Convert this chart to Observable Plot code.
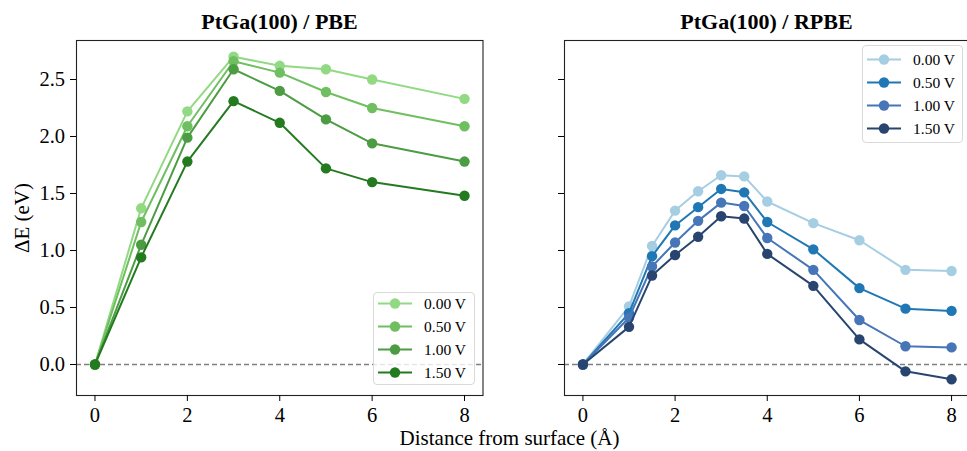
<!DOCTYPE html>
<html>
<head>
<meta charset="utf-8">
<script src="https://cdn.jsdelivr.net/npm/d3@7"></script>
<script src="https://cdn.jsdelivr.net/npm/@observablehq/plot@0.6"></script>
<style>
  body { margin: 0; background: #fff; }
  #fig { position: relative; width: 967px; height: 451px; overflow: hidden; font-family: "Liberation Serif", "DejaVu Serif", serif; color: #000; }
  .abs { position: absolute; }
  .title { position: absolute; top: 9px; font-weight: bold; font-size: 22px; transform: translateX(-50%); white-space: nowrap; }
  .xlabel { position: absolute; top: 430px; font-size: 21px; line-height: 16px; transform: translateX(-50%); white-space: nowrap; }
  .ylabel { position: absolute; font-size: 21px; white-space: nowrap; transform: translate(-50%, -50%) rotate(-90deg); }
  .legend { position: absolute; background: rgba(255,255,255,0.8); border: 1px solid #d9d9d9; border-radius: 4px; box-sizing: border-box; }
</style>
</head>
<body>
<div id="fig"></div>
<script>
// ---- data ----
const voltages = ["0.00 V", "0.50 V", "1.00 V", "1.50 V"];

const pbeX = [0, 1, 2, 3, 4, 5, 6, 8];
const pbe000 = [0, 1.37, 2.22, 2.70, 2.62, 2.59, 2.50, 2.33];
const pbe050 = [0, 1.25, 2.09, 2.66, 2.56, 2.39, 2.25, 2.09];
const pbe100 = [0, 1.05, 1.99, 2.59, 2.40, 2.15, 1.94, 1.78];
const pbe150 = [0, 0.94, 1.78, 2.31, 2.12, 1.72, 1.60, 1.48];

const rpbeX = [0, 1, 1.5, 2, 2.5, 3, 3.5, 4, 5, 6, 7, 8];
const rpbe000 = [0, 0.51, 1.04, 1.35, 1.52, 1.66, 1.65, 1.43, 1.24, 1.09, 0.83, 0.82];
const rpbe050 = [0, 0.45, 0.95, 1.22, 1.38, 1.54, 1.51, 1.25, 1.01, 0.67, 0.49, 0.47];
const rpbe100 = [0, 0.41, 0.86, 1.07, 1.26, 1.42, 1.39, 1.11, 0.83, 0.39, 0.16, 0.15];
const rpbe150 = [0, 0.33, 0.78, 0.96, 1.12, 1.30, 1.28, 0.97, 0.69, 0.22, -0.06, -0.13];

const greens = ["#92d983", "#6fbf60", "#4b9c42", "#247a1f"];
const blues = ["#a6cee3", "#1f78b4", "#4675b8", "#27456f"];

const xTicks = [0, 2, 4, 6, 8];
const yTicks = [0, 0.5, 1.0, 1.5, 2.0, 2.5];
const titles = ["PtGa(100) / PBE", "PtGa(100) / RPBE"];
const xLabel = "Distance from surface (Å)";
const yLabel = "ΔE (eV)";

const xDomain = [-0.4, 8.4];
const yDomain = [-0.272, 2.842];

function panel(xs, series, colors, o) {
  const marks = [
    Plot.ruleY([0], {stroke: "#808080", strokeWidth: 1.3, strokeDasharray: "5,3"})
  ];
  series.forEach((s, i) => {
    const d = xs.map((x, j) => ({x, y: s[j], v: voltages[i]}));
    marks.push(Plot.line(d, {x: "x", y: "y", stroke: colors[i], strokeWidth: 2}));
    marks.push(Plot.dot(d, {x: "x", y: "y", fill: colors[i], r: 5.2}));
  });
  marks.push(Plot.frame({stroke: "#222", strokeWidth: 1.1}));
  marks.push(Plot.axisX({ticks: xTicks, tickSize: 6, tickPadding: 5.5, fontSize: 20.5, label: null, tickFormat: d3.format("d")}));
  marks.push(Plot.axisY({ticks: yTicks, tickSize: 6, tickPadding: 5.5, fontSize: 20.5, label: null,
    tickFormat: o.showY ? d3.format(".1f") : () => ""}));
  return Plot.plot({
    width: o.width, height: 451,
    marginTop: 40, marginBottom: 56, marginLeft: o.ml, marginRight: o.mr,
    x: {domain: xDomain},
    y: {domain: yDomain},
    style: {fontFamily: "Liberation Serif, serif", color: "#000", background: "transparent", overflow: "visible"},
    marks
  });
}

const fig = document.getElementById("fig");

const left = panel(pbeX, [pbe000, pbe050, pbe100, pbe150], greens, {width: 486, ml: 76, mr: 3.5, showY: true});
left.classList.add("abs"); left.style.left = "0px"; left.style.top = "0px";
fig.appendChild(left);

const right = panel(rpbeX, [rpbe000, rpbe050, rpbe100, rpbe150], blues, {width: 472, ml: 64, mr: 2.5, showY: false});
right.classList.add("abs"); right.style.left = "500px"; right.style.top = "0px";
fig.appendChild(right);

// titles
[[279.5, titles[0]], [766.5, titles[1]]].forEach(([cx, t]) => {
  const d = document.createElement("div");
  d.className = "title"; d.style.left = cx + "px"; d.textContent = t;
  fig.appendChild(d);
});
const xl = document.createElement("div");
xl.className = "xlabel"; xl.style.left = "509.5px"; xl.textContent = xLabel;
fig.appendChild(xl);
const yl = document.createElement("div");
yl.className = "ylabel"; yl.style.left = "22px"; yl.style.top = "218px"; yl.textContent = yLabel;
fig.appendChild(yl);

// legends
function legend(colors, box, rowY0) {
  const div = document.createElement("div");
  div.className = "legend";
  Object.assign(div.style, {left: box.x + "px", top: box.y + "px", width: box.w + "px", height: box.h + "px"});
  const svg = d3.create("svg").attr("width", box.w).attr("height", box.h).style("position", "absolute").style("left", "-1px").style("top", "-1px");
  voltages.forEach((v, i) => {
    const y = rowY0 + i * 23;
    svg.append("line").attr("x1", 5).attr("x2", 39).attr("y1", y).attr("y2", y).attr("stroke", colors[i]).attr("stroke-width", 2);
    svg.append("circle").attr("cx", 22).attr("cy", y).attr("r", 5.2).attr("fill", colors[i]);
    svg.append("text").attr("x", 51).attr("y", y).attr("dy", "0.35em").attr("font-size", 15.5).attr("font-family", "Liberation Serif, serif").text(v);
  });
  div.appendChild(svg.node());
  fig.appendChild(div);
}
legend(greens, {x: 373, y: 292, w: 102, h: 93}, 11.5);
legend(blues, {x: 862, y: 45, w: 101, h: 98}, 14.5);
</script>
</body>
</html>
